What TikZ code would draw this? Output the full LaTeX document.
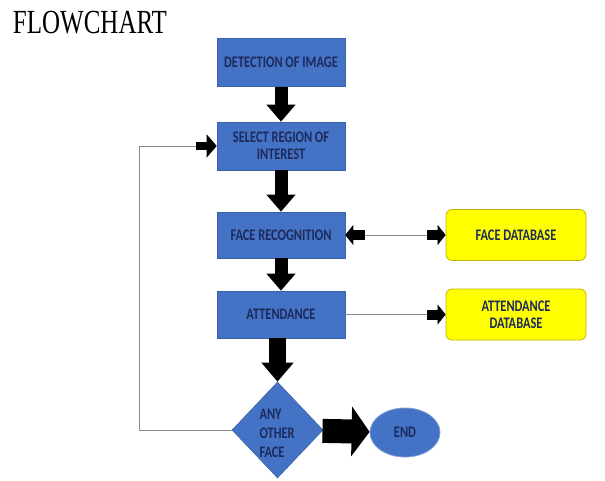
\documentclass[tikz,border=0pt]{standalone}
\usepackage{fontspec}
\newfontfamily\boxfont{Carlito}
\newfontfamily\titlefont{Liberation Serif}
\usepackage{tikz}
\usetikzlibrary{positioning,arrows.meta,shapes.geometric}
\usepackage{xcolor}
\definecolor{boxblue}{HTML}{4472C4}
\definecolor{boxedge}{HTML}{3A62A8}
\definecolor{dbyellow}{HTML}{FFFF00}
\definecolor{dbedge}{HTML}{C2B400}
\definecolor{navy}{HTML}{1C2A5C}
\definecolor{wire}{HTML}{8A8A8A}
% taller lettering, as in the boxes of the original
\newcommand{\tall}[1]{\raisebox{-2pt}[\height][\depth]{\scalebox{1}[1.3]{\begin{tabular}{@{}c@{}}#1\end{tabular}}}}

\begin{document}
\begin{tikzpicture}[x=1pt, y=-1pt,
    font=\boxfont\bfseries\fontsize{12.4}{12.4}\selectfont,
    stepbox/.style={rectangle, fill=boxblue, draw=boxedge, line width=0.6pt, text=navy,
      minimum width=128pt, minimum height=48pt, align=center, inner sep=2pt},
    dbbox/.style={rectangle, rounded corners=6pt, fill=dbyellow, draw=dbedge, line width=0.8pt,
      text=navy, minimum width=140pt, minimum height=51pt, align=center},
    bigdown/.style={black, line width=13pt, -{Triangle[width=28pt, length=17pt]}},
    wirelink/.style={wire, line width=0.7pt},
    onehead/.style={-{Rectangle[width=10pt, length=11pt, sep=0pt, color=black]Triangle[width=20pt, length=8pt, sep=0pt, color=black]}},
    twohead/.style={{Triangle[width=20pt, length=8pt, sep=0pt, color=black]Rectangle[width=10pt, length=11pt, sep=0pt, color=black]}-{Rectangle[width=10pt, length=11pt, sep=0pt, color=black]Triangle[width=20pt, length=8pt, sep=0pt, color=black]}}]
  \useasboundingbox (0,0) rectangle (605,481);

  \node[text=black, font=\titlefont\fontsize{25}{25}\selectfont] (title) at (90,23) {\scalebox{1}[1.35]{FLOWCHART}};

  \node[stepbox] (detect) at (281,62.5) {\tall{DETECTION OF IMAGE}};
  \node[stepbox] (select) at (281,146) {\tall{SELECT REGION OF\\[1pt]INTEREST}};
  \node[stepbox, minimum height=46pt] (facerec) at (281,235) {\tall{FACE RECOGNITION}};
  \node[stepbox, minimum height=47pt] (attend) at (281,314.5) {\tall{ATTENDANCE}};

  \node[dbbox] (facedb) at (516,235) {\tall{FACE DATABASE}};
  \node[dbbox] (attdb) at (516,314.5) {\tall{ATTENDANCE\\[1pt]DATABASE}};

  \node[diamond, fill=boxblue, draw=boxedge, line width=0.6pt, text=navy, inner sep=0pt,
    minimum width=91pt, minimum height=96pt] (any) at (277.5,430) {};
  \node[text=navy, align=left, anchor=north west, font=\boxfont\bfseries\fontsize{12.4}{18.8}\selectfont]
    (anytext) at (256,406) {\scalebox{1}[1.3]{ANY}\\\scalebox{1}[1.3]{OTHER}\\\scalebox{1}[1.3]{FACE}};
  \node[ellipse, fill=boxblue, draw=boxblue!70!white, line width=0.8pt, text=navy,
    minimum width=70pt, minimum height=49pt] (stop) at (405,432.5) {\tall{END}};

  % main flow
  \draw[bigdown] (detect) -- (select);
  \draw[bigdown] (select) -- (facerec);
  \draw[bigdown] (facerec) -- (attend);
  \draw[bigdown, line width=17pt, -{Triangle[width=31pt, length=19pt]}] (attend.south -| any.north) -- (any.north);
  \draw[black, line width=24pt, -{Triangle[width=49pt, length=18pt]}] (any) -- (stop);

  % database links
  \draw[wirelink, twohead] (facerec) -- (facedb);
  \draw[wirelink, onehead] (attend) -- (attdb);

  % loop back
  \draw[wirelink, -{Rectangle[width=8pt, length=11pt, sep=0pt, color=black]Triangle[width=23pt, length=10pt, sep=0pt, color=black]}]
    (any.west) -- ++(-92,0) |- (select.west);
\end{tikzpicture}
\end{document}
